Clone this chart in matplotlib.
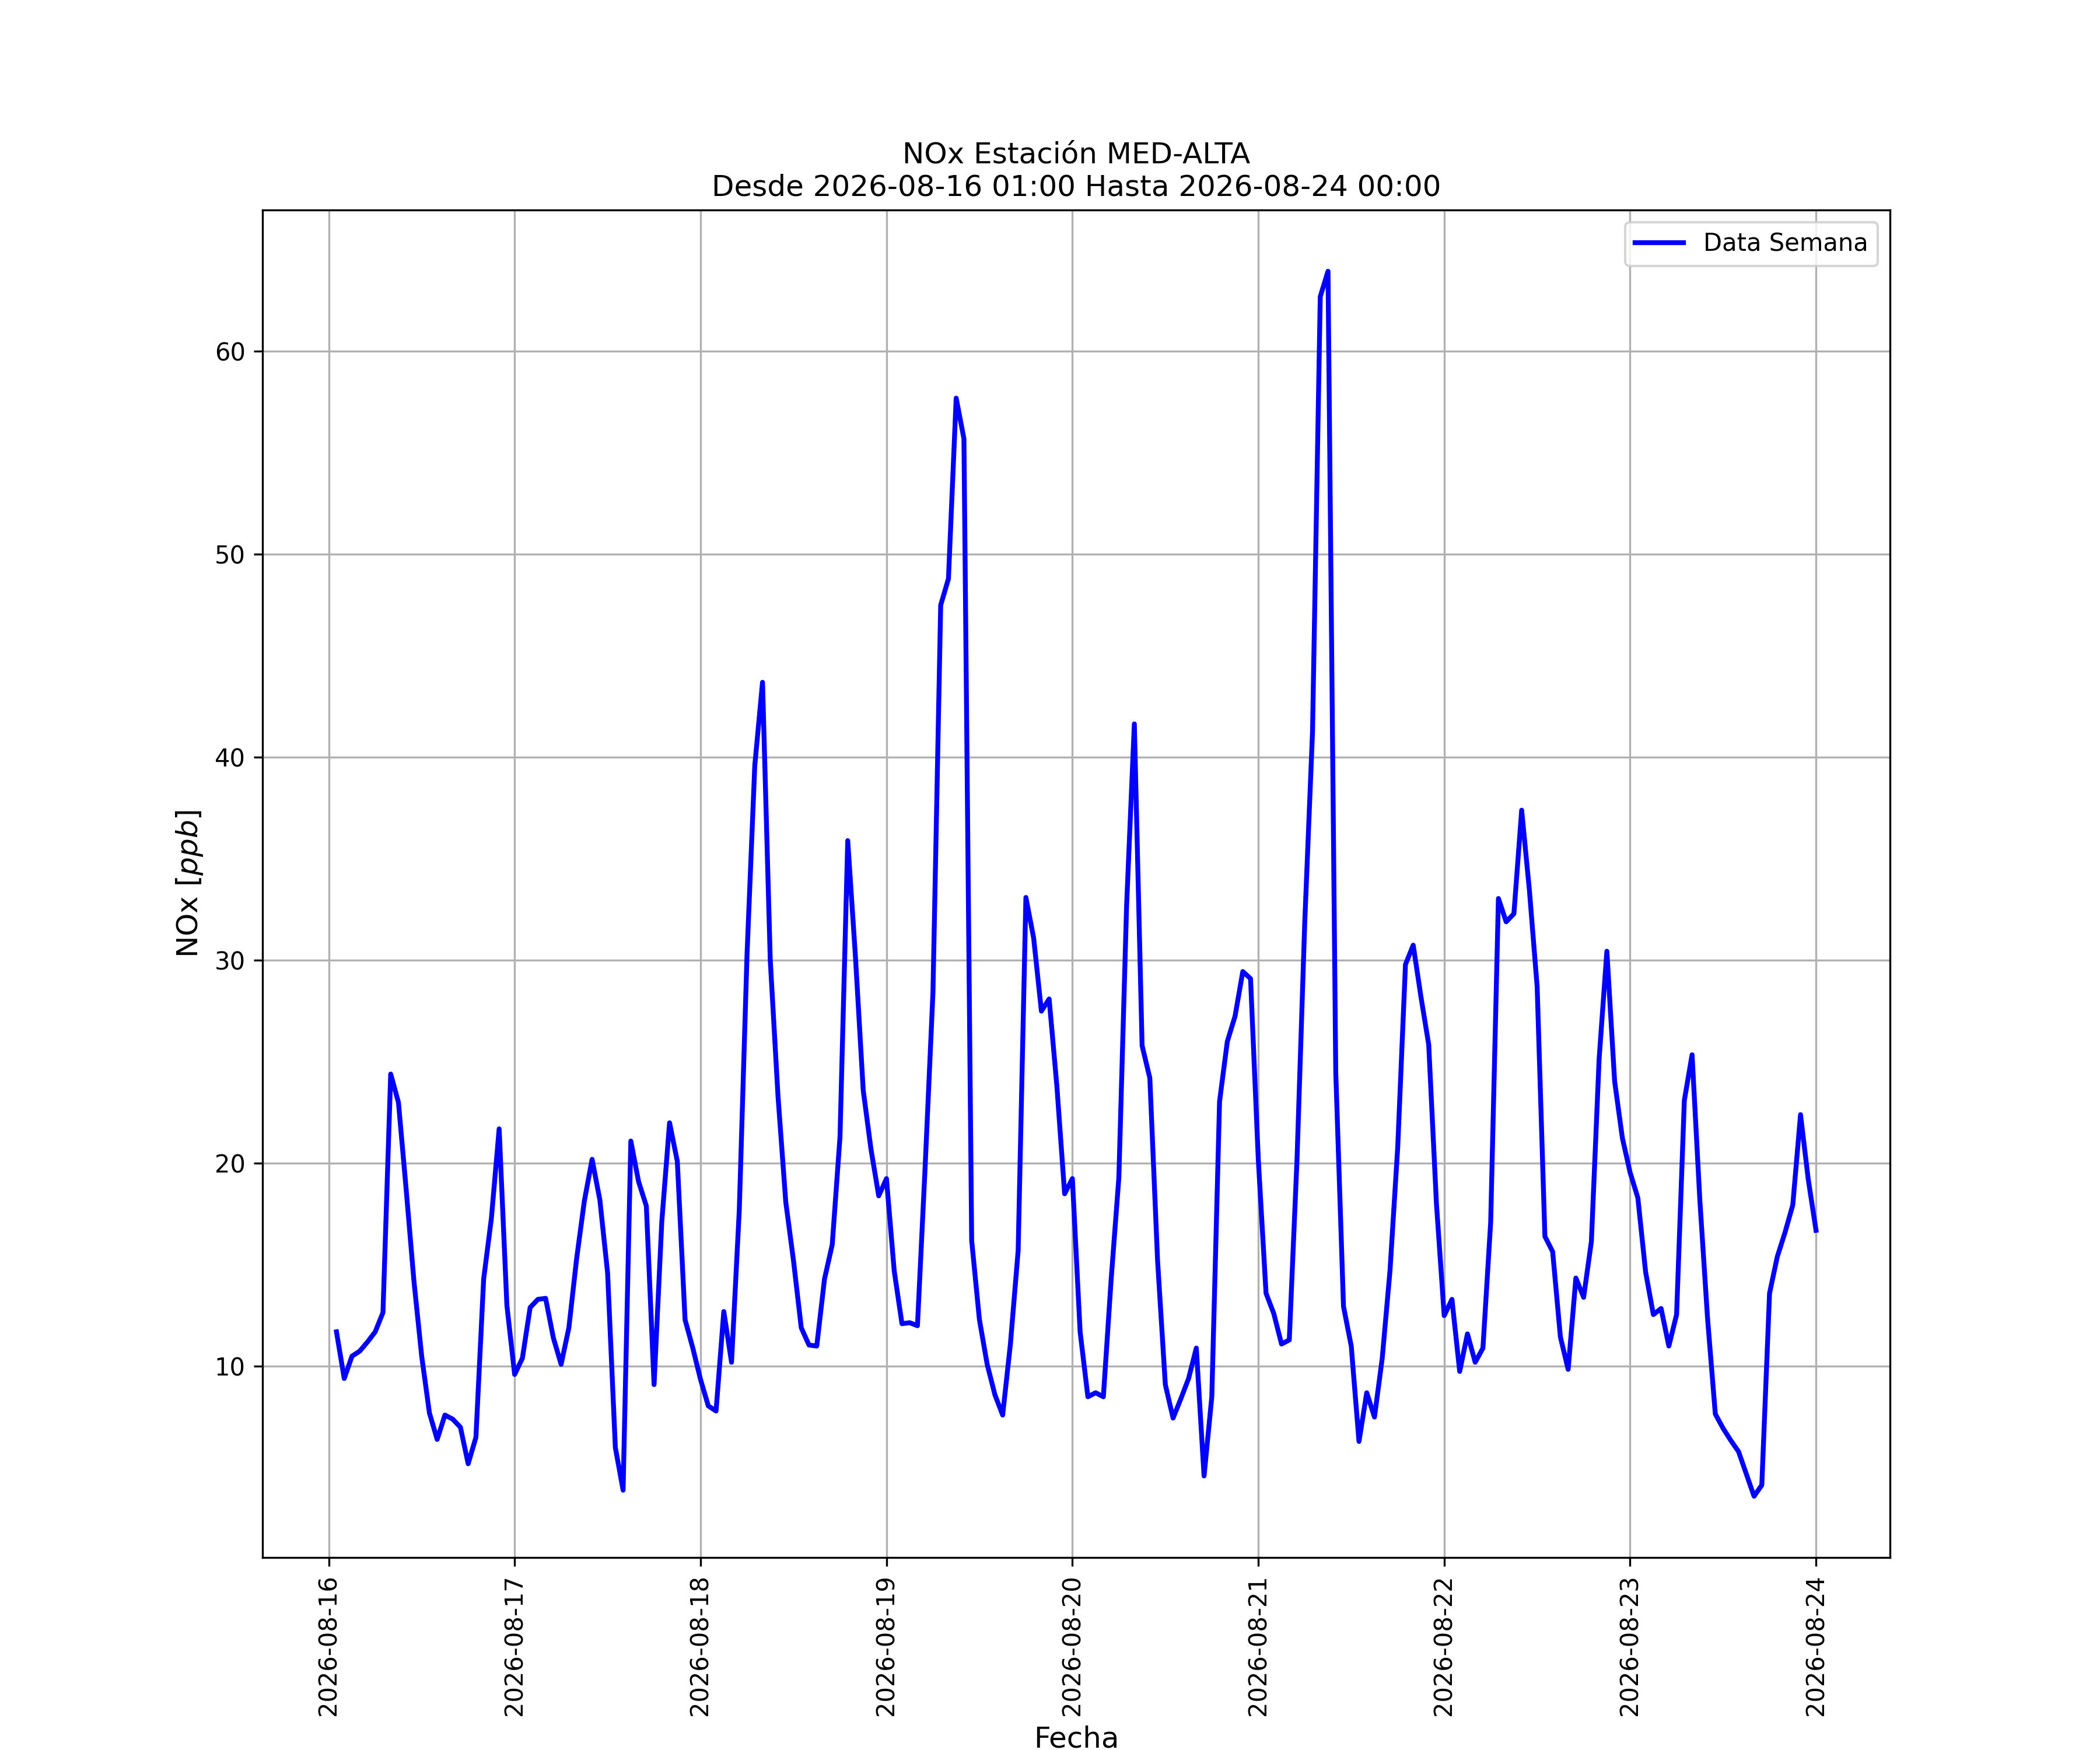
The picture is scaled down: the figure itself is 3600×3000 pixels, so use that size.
import matplotlib
matplotlib.use("Agg")
import matplotlib.pyplot as plt
import matplotlib.dates as mdates
import pandas as pd

# Hourly NOx values (ppb), 2026-08-16 01:00 .. 2026-08-24 00:00
day16 = [11.7, 9.4, 10.5, 10.75, 11.2, 11.7, 12.65, 24.4, 23.0, 18.7, 14.2, 10.5,
         7.7, 6.4, 7.6, 7.4, 7.0, 5.2, 6.5, 14.3, 17.3, 21.7, 13.0, 9.6]
day17 = [10.4, 12.9, 13.3, 13.35, 11.4, 10.1, 11.9, 15.3, 18.15, 20.2, 18.2, 14.6,
         6.0, 3.9, 21.1, 19.1, 17.9, 9.1, 17.15, 22.0, 20.1, 12.3, 10.9, 9.35]
day18 = [8.05, 7.8, 12.7, 10.2, 17.7, 30.3, 39.6, 43.7, 30.0, 23.3, 18.1, 15.2,
         11.9, 11.05, 11.0, 14.3, 16.0, 21.3, 35.9, 30.15, 23.6, 20.7, 18.4, 19.25]
day19 = [14.7, 12.1, 12.15, 12.0, 19.9, 28.4, 47.5, 48.8, 57.7, 55.7, 16.2, 12.3,
         10.1, 8.6, 7.6, 11.1, 15.7, 33.1, 31.1, 27.5, 28.1, 23.8, 18.5, 19.25]
day20 = [11.7, 8.5, 8.7, 8.5, 14.25, 19.3, 32.7, 41.65, 25.8, 24.2, 15.2, 9.1,
         7.45, 8.4, 9.4, 10.9, 4.6, 8.5, 23.05, 26.0, 27.25, 29.45, 29.1, 20.2]
day21 = [13.6, 12.6, 11.1, 11.3, 20.2, 31.9, 41.25, 62.7, 63.95, 24.5, 12.95, 11.0,
         6.3, 8.7, 7.5, 10.4, 14.7, 20.8, 29.8, 30.75, 28.2, 25.85, 18.0, 12.5]
day22 = [13.3, 9.75, 11.6, 10.2, 10.9, 17.1, 33.05, 31.9, 32.3, 37.4, 33.45, 28.7,
         16.4, 15.65, 11.45, 9.85, 14.35, 13.4, 16.15, 25.15, 30.45, 24.05, 21.25, 19.55]
day23 = [18.3, 14.65, 12.55, 12.85, 11.0, 12.55, 23.1, 25.35, 18.2, 12.35, 7.65, 6.95,
         6.35, 5.8, 4.7, 3.6, 4.15, 13.6, 15.4, 16.6, 17.95, 22.4, 19.2, 16.7]

values = day16 + day17 + day18 + day19 + day20 + day21 + day22 + day23
times = pd.date_range("2026-08-16 01:00", periods=len(values), freq="h")

title = "NOx Estación MED-ALTA\nDesde 2026-08-16 01:00 Hasta 2026-08-24 00:00"
series_label = "Data Semana"
x_label = "Fecha"
y_label = "NOx $[ppb]$"

fig, ax = plt.subplots(figsize=(12, 10), dpi=300)
ax.plot(times, values, color="blue", linewidth=2, label=series_label)
ax.set_title(title, fontsize=12)
ax.set_xlabel(x_label, fontsize=12)
ax.set_ylabel(y_label, fontsize=12)
ax.xaxis.set_major_locator(mdates.DayLocator())
ax.xaxis.set_major_formatter(mdates.DateFormatter("%Y-%m-%d"))
plt.setp(ax.get_xticklabels(), rotation=90)
ax.grid(True)
ax.legend(loc="upper right")
fig.savefig("out.png", dpi=300)
